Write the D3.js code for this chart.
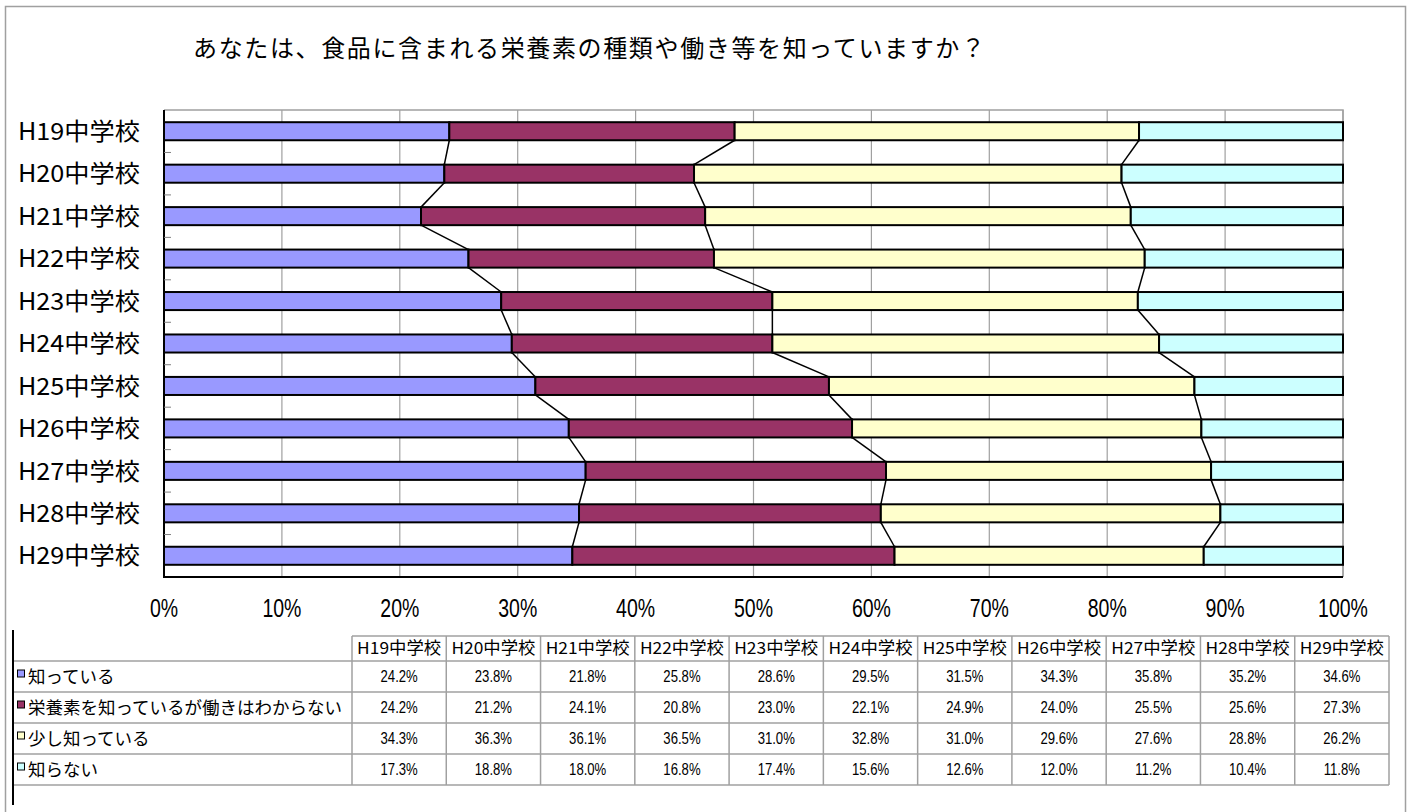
<!DOCTYPE html>
<html><head><meta charset="utf-8">
<script src="https://cdn.jsdelivr.net/npm/d3@7"></script>
<style>html,body{margin:0;padding:0;background:#fff;}svg{display:block;}</style>
</head><body>
<svg id="c" width="1416" height="812"></svg>
<script>
const title = "あなたは、食品に含まれる栄養素の種類や働き等を知っていますか？";
const categories = ["H19中学校","H20中学校","H21中学校","H22中学校","H23中学校","H24中学校","H25中学校","H26中学校","H27中学校","H28中学校","H29中学校"];
const seriesNames = ["知っている","栄養素を知っているが働きはわからない","少し知っている","知らない"];
const shitteiru = [24.2,23.8,21.8,25.8,28.6,29.5,31.5,34.3,35.8,35.2,34.6];
const eiyousoNomi = [24.2,21.2,24.1,20.8,23.0,22.1,24.9,24.0,25.5,25.6,27.3];
const sukoshi = [34.3,36.3,36.1,36.5,31.0,32.8,31.0,29.6,27.6,28.8,26.2];
const shiranai = [17.3,18.8,18.0,16.8,17.4,15.6,12.6,12.0,11.2,10.4,11.8];
const seriesValues = [shitteiru, eiyousoNomi, sukoshi, shiranai];
const colors = ["#9999ff","#993366","#ffffcc","#ccffff"];
const xTickValues = [0,0.1,0.2,0.3,0.4,0.5,0.6,0.7,0.8,0.9,1.0];

const svg = d3.select("#c");
const cjk = "'Noto Sans CJK JP','Noto Sans',sans-serif";
const latin = "'Liberation Sans','Noto Sans CJK JP',sans-serif";

// outer frame
svg.append("rect").attr("x",5.5).attr("y",6.5).attr("width",1400).attr("height",820)
  .attr("fill","none").attr("stroke","#a0a0a0").attr("stroke-width",1.5);

// title
svg.append("text").attr("x",193).attr("y",57).text(title)
  .attr("font-family",cjk).attr("font-size",24).attr("fill","#000")
  .attr("textLength",792).attr("lengthAdjust","spacing");

const plot = {left:164, right:1343, top:110, bottom:577};
const x = d3.scaleLinear().domain([0,1]).range([plot.left, plot.right]);
const y = d3.scaleBand().domain(categories).range([plot.top, plot.bottom]).paddingInner(0.575).paddingOuter(0.2875);

// gridlines
svg.append("g").selectAll("line").data(xTickValues.slice(1)).join("line")
  .attr("x1",d=>x(d)).attr("x2",d=>x(d)).attr("y1",plot.top).attr("y2",plot.bottom)
  .attr("stroke","#a0a0a0").attr("stroke-width",1.2);
// plot border top/right
svg.append("path").attr("d",`M${plot.left},${plot.top}H${plot.right}V${plot.bottom}`)
  .attr("fill","none").attr("stroke","#a0a0a0").attr("stroke-width",1.5);

// stack data
const rows = categories.map((c,i)=>{const o={cat:c}; seriesValues.forEach((s,k)=>o["s"+k]=s[i]); return o;});
const keys = seriesValues.map((s,k)=>"s"+k);
const stacked = d3.stack().keys(keys).offset(d3.stackOffsetExpand)(rows);

// series lines
const bh = y.bandwidth();
for (let k=0;k<3;k++){
  const layer = stacked[k];
  for (let i=0;i<categories.length-1;i++){
    svg.append("line")
      .attr("x1",x(layer[i][1])).attr("y1",y(categories[i])+bh)
      .attr("x2",x(layer[i+1][1])).attr("y2",y(categories[i+1]))
      .attr("stroke","#000").attr("stroke-width",1.5);
  }
}

// bars
stacked.forEach((layer,k)=>{
  svg.append("g").selectAll("rect").data(layer).join("rect")
    .attr("x",d=>x(d[0])).attr("width",d=>x(d[1])-x(d[0]))
    .attr("y",d=>y(d.data.cat)).attr("height",bh)
    .attr("fill",colors[k]).attr("stroke","#000").attr("stroke-width",2);
});

// axes lines
svg.append("path").attr("d",`M${plot.left},${plot.top}V${plot.bottom}H${plot.right}`)
  .attr("fill","none").attr("stroke","#000").attr("stroke-width",2);
// inward category ticks
const step = y.step();
svg.append("g").selectAll("line").data(d3.range(1,categories.length)).join("line")
  .attr("x1",plot.left).attr("x2",plot.left+7)
  .attr("y1",i=>plot.top+step*i).attr("y2",i=>plot.top+step*i)
  .attr("stroke","#808080").attr("stroke-width",1);

// category labels
svg.append("g").selectAll("text").data(categories).join("text")
  .attr("x",140).attr("y",d=>y(d)+bh/2).attr("dy","0.36em").attr("text-anchor","end")
  .attr("font-family",cjk).attr("font-size",24).attr("fill","#000")
  .attr("textLength",122).attr("lengthAdjust","spacingAndGlyphs").text(d=>d);

// x tick labels (narrowed)
svg.append("g").selectAll("text").data(xTickValues).join("text")
  .attr("transform",d=>`translate(${x(d)},617) scale(0.78,1)`).attr("text-anchor","middle")
  .attr("font-family",latin).attr("font-size",25).attr("fill","#000")
  .text(d=>d3.format(".0%")(d));

// data table
const tbl = {left:13, colStart:352, right:1389, headTop:636, headBottom:661, rowH:31};
const colW = (tbl.right - tbl.colStart)/categories.length;
const gridC = "#a0a0a0";
const tg = svg.append("g");
tg.append("line").attr("x1",tbl.colStart).attr("x2",tbl.right).attr("y1",tbl.headTop).attr("y2",tbl.headTop)
  .attr("stroke",gridC).attr("stroke-width",1.5);
tg.selectAll("line.h").data(d3.range(0,seriesNames.length+1)).join("line").attr("class","h")
  .attr("x1",tbl.left).attr("x2",tbl.right)
  .attr("y1",i=>tbl.headBottom+i*tbl.rowH).attr("y2",i=>tbl.headBottom+i*tbl.rowH)
  .attr("stroke",gridC).attr("stroke-width",1.5);
tg.selectAll("line.v").data(d3.range(0,categories.length+1)).join("line").attr("class","v")
  .attr("x1",i=>tbl.colStart+i*colW).attr("x2",i=>tbl.colStart+i*colW)
  .attr("y1",tbl.headTop).attr("y2",tbl.headBottom+seriesNames.length*tbl.rowH)
  .attr("stroke",gridC).attr("stroke-width",1.5);
tg.append("line").attr("x1",tbl.left).attr("x2",tbl.left).attr("y1",630).attr("y2",805)
  .attr("stroke","#000").attr("stroke-width",2);
// header text
tg.selectAll("text.hd").data(categories).join("text").attr("class","hd")
  .attr("x",(d,i)=>tbl.colStart+(i+0.5)*colW).attr("y",(tbl.headTop+tbl.headBottom)/2).attr("dy","0.36em")
  .attr("text-anchor","middle").attr("font-family",cjk).attr("font-size",16.5).attr("fill","#000")
  .attr("textLength",84).attr("lengthAdjust","spacingAndGlyphs").text(d=>d);
// row labels + markers + values
seriesNames.forEach((name,k)=>{
  const cy = tbl.headBottom + (k+0.5)*tbl.rowH;
  tg.append("rect").attr("x",17.5).attr("y",cy-6.5).attr("width",7).attr("height",7)
    .attr("fill",colors[k]).attr("stroke","#000").attr("stroke-width",1);
  tg.append("text").attr("x",28).attr("y",cy).attr("dy","0.36em")
    .attr("font-family",cjk).attr("font-size",17.5).attr("fill","#000").text(name);
  tg.append("g").selectAll("text").data(seriesValues[k]).join("text")
    .attr("transform",(d,i)=>`translate(${tbl.colStart+(i+0.5)*colW},${cy}) scale(0.82,1)`)
    .attr("dy","0.36em")
    .attr("text-anchor","middle").attr("font-family",latin).attr("font-size",16).attr("fill","#000")
    .text(d=>d3.format(".1f")(d)+"%");
});
</script>
</body></html>
